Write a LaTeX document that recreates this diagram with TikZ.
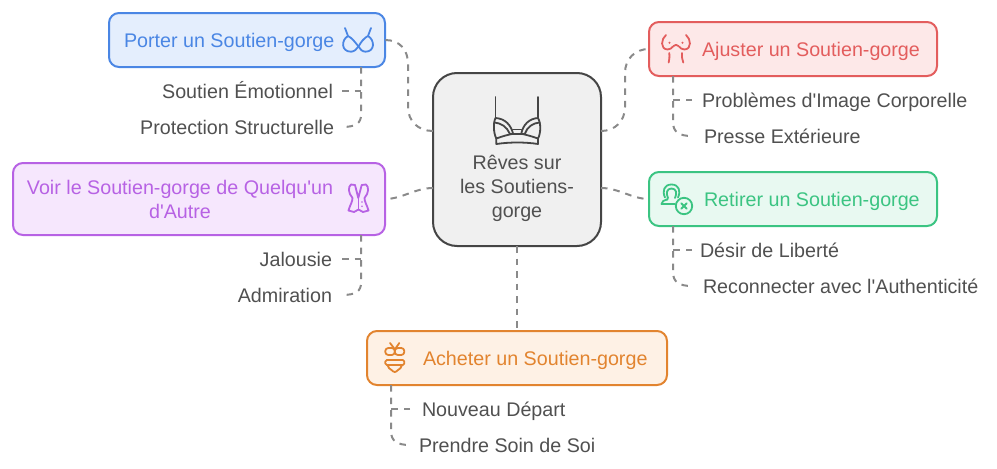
\documentclass[tikz,border=0pt]{standalone}
\usepackage{fontspec}
\setmainfont{Liberation Sans}[Ligatures=TeXOff]
\definecolor{bluS}{HTML}{4A86E4}\definecolor{bluF}{HTML}{E4EEFD}
\definecolor{redS}{HTML}{E35D5D}\definecolor{redF}{HTML}{FDE8E8}
\definecolor{greS}{HTML}{3BC482}\definecolor{greF}{HTML}{E8F9F1}
\definecolor{purS}{HTML}{B762E4}\definecolor{purF}{HTML}{F6E7FD}
\definecolor{oraS}{HTML}{E2842F}\definecolor{oraF}{HTML}{FEF1E5}
\definecolor{cenS}{HTML}{454545}\definecolor{cenF}{HTML}{F0F0F0}
\definecolor{txt}{HTML}{505050}\definecolor{lnk}{HTML}{8A8A8A}
\tikzset{
  x=1pt,y=-1pt,
  boxn/.style={draw=#1S,fill=#1F,line width=2pt,rounded corners=10pt,inner sep=0pt,outer sep=0pt},
  lab/.style={text=txt,font=\fontsize{19.7}{24}\selectfont,inner sep=0pt,outer sep=0pt},
  ttl/.style={text=#1S,font=\fontsize{19.7}{24}\selectfont,inner sep=0pt,outer sep=0pt,align=center},
  link/.style={draw=lnk,line width=2pt,dash pattern=on 6.5pt off 6pt},
  ico/.style={draw=#1,line width=1.8pt,line cap=round,line join=round,fill=none},
}
\begin{document}
\begin{tikzpicture}
\useasboundingbox (0,0) rectangle (997,469);
% boxes
\node[boxn=blu,minimum width=276pt,minimum height=54pt] (blue) at (247,40) {};
\node[boxn=red,minimum width=288pt,minimum height=54pt] (red) at (793,49) {};
\node[boxn=gre,minimum width=288pt,minimum height=54pt] (green) at (793,199) {};
\node[boxn=pur,minimum width=372pt,minimum height=72pt] (purple) at (199,199) {};
\node[boxn=ora,minimum width=300pt,minimum height=54pt] (orange) at (517,358) {};
\node[draw=cenS,fill=cenF,line width=2pt,rounded corners=24pt,inner sep=0pt,outer sep=0pt,minimum width=168pt,minimum height=173pt] (center) at (517,159.5) {};
% anchors on the centre box and branches
\coordinate (cLt) at (433,131);\coordinate (cLb) at (433,188);
\coordinate (cRt) at (601,131);\coordinate (cRb) at (601,188);
\coordinate (blueB) at (361,67);\coordinate (redB) at (673,76);
\coordinate (greenB) at (673,226);\coordinate (purB) at (361,235);
\coordinate (oraB) at (391,385);
% titles
\node[ttl=blu,anchor=base west] (tBlue) at (124,47.2) {Porter un Soutien-gorge};
\node[ttl=red,anchor=base west] (tRed) at (702,56.2) {Ajuster un Soutien-gorge};
\node[ttl=gre,anchor=base west] (tGreen) at (704,206.2) {Retirer un Soutien-gorge};
\node[ttl=ora,anchor=base west] (tOra) at (423,365.2) {Acheter un Soutien-gorge};
\node[ttl=pur] (tPur) at (180,199.8) {Voir le Soutien-gorge de Quelqu'un\\d'Autre};
\node[lab,align=center] (tCen) at (517,188.4) {Rêves sur\\les Soutiens-\\gorge};
% labels
\node[lab,anchor=base east] (a1) at (333,98.2) {Soutien Émotionnel};
\node[lab,anchor=base east] (a2) at (334,134.2) {Protection Structurelle};
\node[lab,anchor=base west] (b1) at (702,107.2) {Problèmes d'Image Corporelle};
\node[lab,anchor=base west] (b2) at (704,143.2) {Presse Extérieure};
\node[lab,anchor=base west] (c1) at (700,257.2) {Désir de Liberté};
\node[lab,anchor=base west] (c2) at (703,293.2) {Reconnecter avec l'Authenticité};
\node[lab,anchor=base east] (d1) at (332,266.2) {Jalousie};
\node[lab,anchor=base east] (d2) at (332,302.2) {Admiration};
\node[lab,anchor=base west] (e1) at (422,416.2) {Nouveau Départ};
\node[lab,anchor=base west] (e2) at (419,452.2) {Prendre Soin de Soi};
% connectors: centre to boxes
\draw[link] (cLt) .. controls (418,131) and (408,121) .. (408,107) -- (408,64) .. controls (408,50) and (400,40) .. (blue.east);
\draw[link] (cLb) .. controls (415,188) and (402,199) .. (purple.east);
\draw[link] (cRt) .. controls (615,131) and (625,121) .. (625,107) -- (625,73) .. controls (625,59) and (635,49) .. (red.west);
\draw[link] (cRb) .. controls (619,188) and (632,199) .. (green.west);
\draw[link] (center.south) -- (orange.north);
% branches
\draw[link] (blueB) -- (361,115) .. controls (361,123) and (356,127) .. (342,127);
\draw[link] (342,91) -- (361,91);
\draw[link] (redB) -- (673,122) .. controls (673,132) and (679,136) .. (692,136);
\draw[link] (692,100) -- (673,100);
\draw[link] (greenB) -- (673,272) .. controls (673,282) and (679,286) .. (692,286);
\draw[link] (692,250) -- (673,250);
\draw[link] (purB) -- (361,283) .. controls (361,291) and (356,295) .. (342,295);
\draw[link] (342,259) -- (361,259);
\draw[link] (oraB) -- (391,431) .. controls (391,441) and (397,445) .. (410,445);
\draw[link] (410,409) -- (391,409);
% centre icon
\begin{scope}[ico=cenS]
\draw (495.5,97) -- (495.5,118) (538,97) -- (538,118);
\draw (495.5,118) .. controls (505,118.5) and (511,125) .. (513,133.5);
\draw (538,118) .. controls (529,118.5) and (523,125) .. (521.3,133.5);
\draw (494.5,122.5) .. controls (501,123) and (507,127) .. (509.7,133.5);
\draw (539.5,122.5) .. controls (533,123) and (527,127) .. (525,133.5);
\draw (513,129.5) -- (521.3,129.5) (509.7,133.8) -- (525,133.8);
\draw (495.5,118) .. controls (493,123) and (493.5,133) .. (496.3,138.5) -- (496.3,144) .. controls (510,142) and (525,142) .. (538,144) -- (538,138.5) .. controls (541,133) and (541,123) .. (538,118);
\draw (496.3,138.5) .. controls (503,136) and (509,134.5) .. (513,133.8) (538,138.5) .. controls (531,136) and (525,134.5) .. (521.3,133.8);
\end{scope}
% blue icon
\begin{scope}[ico=bluS]
\draw (345,28) -- (348,36) .. controls (341,40) and (341,51.7) .. (351,51.7) .. controls (354,51.7) and (357,49) .. (358.5,46.5) .. controls (355,42) and (352,38) .. (348,36);
\draw (371,28) -- (368,36) .. controls (375,40) and (375,51.7) .. (365.5,51.7) .. controls (362,51.7) and (360,49) .. (358.5,46.5) .. controls (361,42) and (364,38) .. (368,36);
\end{scope}
% red icon
\begin{scope}[ico=redS]
\draw (666,35) .. controls (661,39) and (660,49) .. (667.5,49.5) .. controls (670,49.5) and (672,48) .. (673,46.5);
\draw (686,35) .. controls (691,39) and (692,49) .. (684.5,49.5) .. controls (682,49.5) and (680,48) .. (679,46.5);
\draw (673.5,46) .. controls (674.5,44.5) and (677.5,44.5) .. (678.5,46);
\draw (669.3,53) .. controls (669.6,57) and (669.3,60) .. (668.7,62.5);
\draw (682,53) .. controls (681.7,57) and (682.3,60) .. (683.3,62.5);
\fill[redS] (669.5,42.7) circle (1.1pt) (682.5,42.7) circle (1.1pt);
\end{scope}
% green icon
\begin{scope}[ico=greS]
\draw (665,197.5) .. controls (662,191) and (664,184.5) .. (671.5,184.5) .. controls (679,184.5) and (681,191) .. (678,197.5);
\draw (668,198) .. controls (665.5,193) and (667,188.5) .. (671.5,188.5) .. controls (676,188.5) and (677.5,193) .. (675,198);
\draw (667.5,198) -- (667.5,199.5) .. controls (664,200.5) and (661.5,201) .. (661.5,204) -- (675,204);
\draw (684,206) circle (8.2pt);
\draw (681.2,203.2) -- (686.8,208.8) (686.8,203.2) -- (681.2,208.8);
\end{scope}
% purple icon
\begin{scope}[ico=purS]
\draw (351,184.5) -- (355,185) -- (358.3,198) -- (361.7,185) -- (366,184.5);
\draw (351,184.5) .. controls (348,187) and (348,193) .. (352.5,198) .. controls (352.5,202) and (350,205) .. (348.5,210.5) -- (354,212) -- (358.5,209.5) -- (363,212) -- (368.5,210.5) .. controls (367,205) and (364.5,202) .. (364.5,198) .. controls (369,193) and (369,187) .. (366,184.5);
\draw (358.5,198) -- (358.5,209.5);
\fill[purS] (362,202) circle (0.9pt) (362,206.3) circle (0.9pt);
\end{scope}
% orange icon
\begin{scope}[ico=oraS]
\draw (390,343) -- (394.3,348.5) (399.3,343) -- (395.5,348.5);
\draw[rounded corners=3pt] (385.3,348) rectangle (394.8,355);
\draw[rounded corners=3pt] (394.8,348) rectangle (404.3,355);
\draw[rounded corners=1.5pt] (385.3,360) -- (404.3,360) -- (404.3,365) -- (385.3,365) -- cycle;
\draw (387.5,365) .. controls (388,368) and (390,369) .. (391.5,370) .. controls (392.5,371) and (393.5,372) .. (394.8,372) .. controls (396,372) and (397,371) .. (398,370) .. controls (399.5,369) and (401.5,368) .. (402,365);
\end{scope}
\end{tikzpicture}
\end{document}
